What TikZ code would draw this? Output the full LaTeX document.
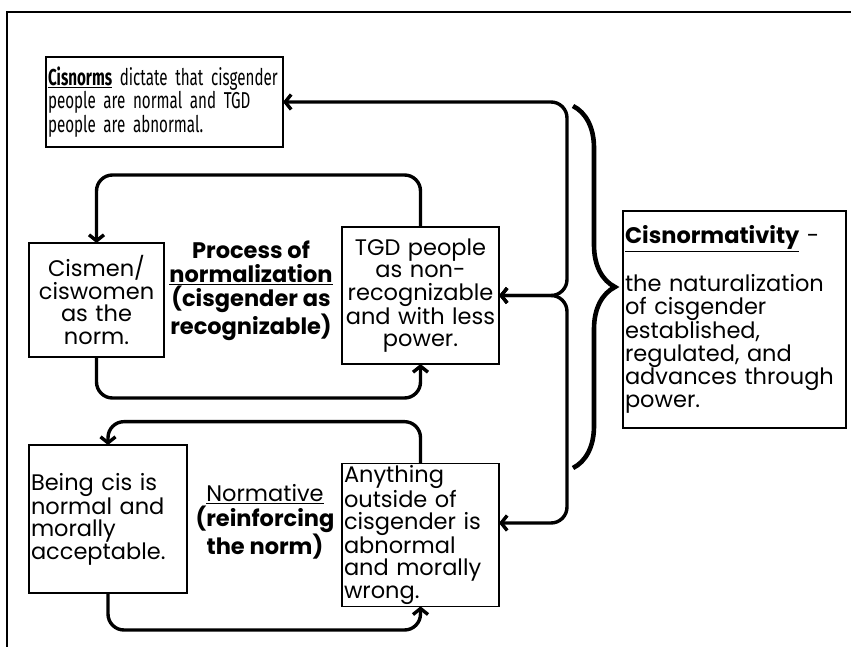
\documentclass[tikz,border=0pt]{standalone}
\usepackage{fontspec}
\setmainfont{Poppins}
\newfontfamily\narrowfont[FakeStretch=0.66]{Fira Sans}
\usetikzlibrary{arrows.meta}
\usetikzlibrary{positioning}
\usetikzlibrary{decorations.pathreplacing}

\tikzset{
  box/.style={draw, line width=1.2pt, inner sep=2pt, outer sep=0pt},
  txt/.style={font=\fontsize{22.5}{22.5}\selectfont},
  link/.style={line width=3.4pt, rounded corners=16pt,
    >={Straight Barb[length=6pt,width=15pt]}},
}

\begin{document}
\begin{tikzpicture}[x=1pt, y=-1pt]
  \useasboundingbox (0,0) rectangle (851,647);
  \draw[line width=1.4pt] (7,647) -- (7,12) -- (851,12);

  % boxes
  \node[box, font=\narrowfont\fontsize{23}{21}\selectfont, text width=233pt, minimum height=90pt, align=left] (cisnorms) at (164.5,102)
    {\underline{\textbf{Cisnorms}} dictate that cisgender\\ people are normal and TGD\\ people are abnormal.};
  \node[box, txt, text width=131pt, minimum height=114pt, align=center] (cismen) at (96.5,300)
    {Cismen/\\ ciswomen\\ as the\\ norm.};
  \node[box, txt, text width=153pt, minimum height=137pt, align=center] (tgd) at (420.5,295.5)
    {TGD people\\ as non-\\ recognizable\\ and with less\\ power.};
  \node[box, txt, text width=154pt, minimum height=148pt, align=left] (beingcis) at (108,519)
    {Being cis is\\ normal and\\ morally\\ acceptable.};
  \node[box, txt, text width=153pt, minimum height=140pt, align=left] (anything) at (420.5,535)
    {Anything\\ outside of\\ cisgender is\\ abnormal\\ and morally\\ wrong.};
  \node[box, txt, text width=219pt, minimum height=217pt, align=left] (cisnormativity) at (734.5,319.5)
    {\underline{\textbf{Cisnormativity}} -\\[22pt] the naturalization\\ of cisgender\\ established,\\ regulated, and\\ advances through\\ power.};

  % labels
  \node[font=\bfseries\fontsize{22.5}{24}\selectfont, align=center] (process) at (251,291)
    {Process of\\ \underline{normalization}\\ (cisgender as\\ recognizable)};
  \node[font=\fontsize{22.5}{25}\selectfont, align=center] (normative) at (265,522)
    {\underline{Normative}\\ \textbf{(reinforcing}\\ \textbf{the norm)}};

  % loops
  \draw[link, ->] (tgd.north) -- ++(0,-52) -| (cismen.north);
  \draw[link, ->] (cismen.south) -- ++(0,41) -| (tgd.south);
  \draw[link, ->] (anything.north) -- ++(0,-42) -| (beingcis.north);
  \draw[link, ->] (beingcis.south) -- ++(0,37) -| (anything.south);

  % rail to the right
  \coordinate (rail) at (567,0);
  \coordinate (anyin) at ([yshift=12pt]anything.east);
  \draw[link, <->] (cisnorms.east) -| (tgd.east -| rail) -- (tgd.east);
  \draw[link, <->] (anyin) -| (tgd.east -| rail) -- (tgd.east);

  % brace
  \coordinate (bracetop) at (573,106);
  \coordinate (bracebot) at (573,468);
  \draw[line width=4.6pt, decorate, decoration={brace, amplitude=42pt}] (bracetop) -- (bracebot);
\end{tikzpicture}
\end{document}
